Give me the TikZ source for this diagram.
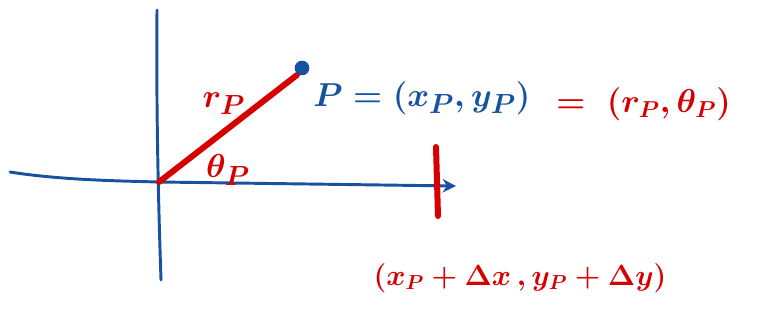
\documentclass[tikz,border=0pt]{standalone}
\usetikzlibrary{arrows.meta}
\definecolor{penblue}{RGB}{22,82,160}
\definecolor{penred}{RGB}{214,0,0}
\begin{document}
\begin{tikzpicture}[x=0.75pt,y=-0.75pt,
  blueink/.style={draw=penblue,line width=2.2pt,line cap=round},
  redink/.style={draw=penred,line width=4.5pt,line cap=round},
  bluetext/.style={text=penblue,font=\fontsize{31}{34}\selectfont\boldmath,inner sep=0pt},
  redtext/.style={text=penred,font=\fontsize{31}{34}\selectfont\boldmath,inner sep=0pt},
  redsmall/.style={text=penred,font=\fontsize{27}{30}\selectfont\boldmath,inner sep=0pt}]
\useasboundingbox (0,0) rectangle (757,324);
% axes
\coordinate (ytop) at (157,10);
\coordinate (ybot) at (161,280);
\coordinate (xleft) at (10,172);
\coordinate (xright) at (456,186);
\coordinate (O) at (159,182);
\draw[blueink] (ytop) .. controls (156,120) and (159,220) .. (ybot);
\draw[blueink,-{Stealth[length=10pt,width=10pt]}] (xleft) .. controls (60,180) and (120,181) .. (O) -- (xright);
% radius line
\coordinate (tip) at (297,75);
\draw[redink] (O) -- (tip);
\node[circle,fill=penblue,inner sep=0pt,minimum size=11pt] (P) at (302,68) {};
% tick
\coordinate (ttop) at (436,147);
\coordinate (tbot) at (438,216);
\draw[redink] (ttop) -- (tbot);
% labels
\node[redtext] (r) at (224,104) {$r_P$};
\node[redtext] (th) at (228,170) {$\theta_P$};
\node[bluetext,anchor=west] (Peq) at (313,98) {$P = \bigl(x_P,y_P\bigr)$};
\node[redsmall,anchor=west] (pol) at (556,104) {$=\ \Bigl(r_P,\theta_P\Bigr)$};
\node[redsmall,anchor=center] (shift) at (520,278) {\scalebox{0.88}{$\biggl(x_P+\Delta x\,,y_P+\Delta y\biggr)$}};
\end{tikzpicture}
\end{document}
